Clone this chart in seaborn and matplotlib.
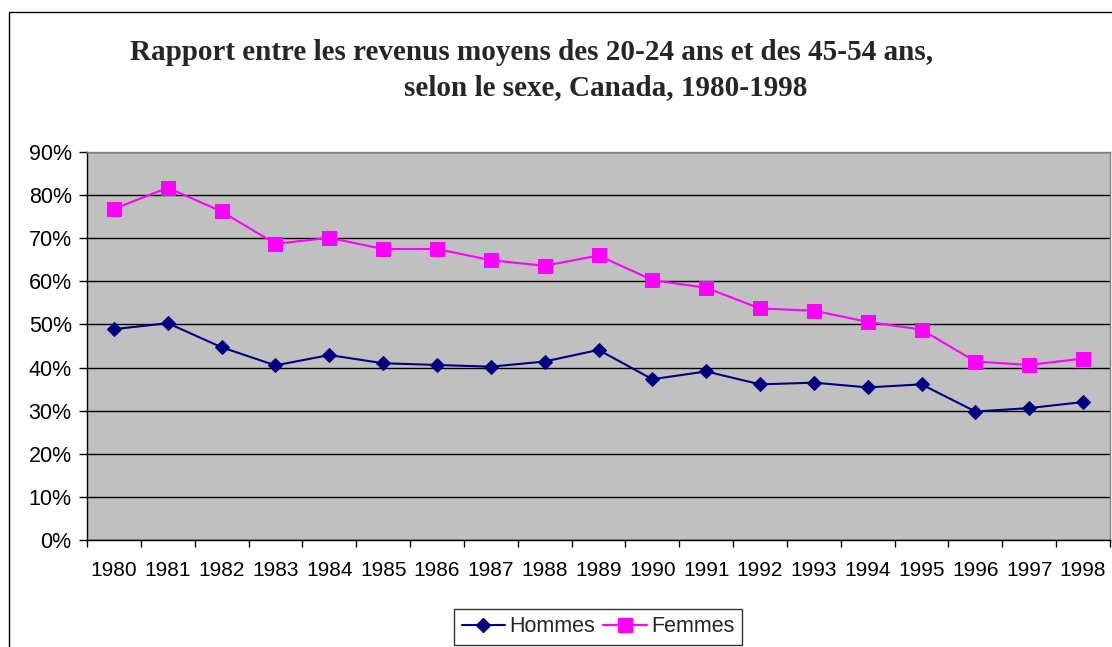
import matplotlib
matplotlib.use("Agg")
import matplotlib.pyplot as plt
import matplotlib.ticker as mticker
from matplotlib.patches import Rectangle
from matplotlib.lines import Line2D
import seaborn as sns
import pandas as pd
import numpy as np

years = [1980, 1981, 1982, 1983, 1984, 1985, 1986, 1987, 1988, 1989,
         1990, 1991, 1992, 1993, 1994, 1995, 1996, 1997, 1998]
hommes = [48.9, 50.3, 44.7, 40.5, 42.9, 41.0, 40.6, 40.2, 41.4, 44.1,
          37.3, 39.1, 36.1, 36.5, 35.4, 36.1, 29.8, 30.6, 32.0]
femmes = [76.8, 81.7, 76.2, 68.7, 70.1, 67.5, 67.5, 64.9, 63.6, 66.0,
          60.3, 58.5, 53.7, 53.2, 50.6, 48.8, 41.4, 40.6, 42.1]
series_names = ["Hommes", "Femmes"]
title_line1 = "Rapport entre les revenus moyens des 20-24 ans et des 45-54 ans,"
title_line2 = "selon le sexe, Canada, 1980-1998"

sns.set_theme(style="white")
plt.rcParams['font.family'] = ['Liberation Sans', 'DejaVu Sans']

W, H = 1112, 647
fig = plt.figure(figsize=(W / 100, H / 100), dpi=100)
ax = fig.add_axes([87 / W, 1 - 540 / H, (1110 - 87) / W, (540 - 152) / H])
ax.set_facecolor("#C0C0C0")

df = pd.DataFrame({"year": years, "Hommes": hommes, "Femmes": femmes})
sns.lineplot(data=df, x="year", y="Hommes", ax=ax, color="#000080",
             marker="D", markersize=7, markeredgecolor="#000080",
             linewidth=1.5, label=series_names[0], legend=False)
sns.lineplot(data=df, x="year", y="Femmes", ax=ax, color="#FF00FF",
             marker="s", markersize=10, markeredgecolor="#FF00FF",
             linewidth=1.5, label=series_names[1], legend=False)

ax.set_xlim(years[0] - 0.5, years[-1] + 0.5)
ax.set_ylim(0, 90)
ax.set_xlabel("")
ax.set_ylabel("")
ax.yaxis.set_major_locator(mticker.MultipleLocator(10))
ax.yaxis.set_major_formatter(mticker.FuncFormatter(lambda v, p: f"{int(round(v))}%"))
ax.set_xticks(years)
ax.set_xticklabels([str(y) for y in years])
ax.set_xticks([y - 0.5 for y in years] + [years[-1] + 0.5], minor=True)
ax.tick_params(axis="x", which="major", length=0, pad=15, labelsize=15, colors="black")
ax.tick_params(axis="x", which="minor", length=5, width=1, color="black", direction="out", bottom=True)
ax.tick_params(axis="y", which="major", length=6, width=1, color="black", direction="out",
               left=True, pad=5, labelsize=15.5, labelcolor="black")

ax.grid(axis="y", which="major", color="black", linewidth=1)
ax.grid(axis="x", visible=False)
ax.set_axisbelow(True)
for s in ["left", "bottom"]:
    ax.spines[s].set_color("black")
    ax.spines[s].set_linewidth(1)
for s in ["top", "right"]:
    ax.spines[s].set_color("#808080")
    ax.spines[s].set_linewidth(1)

handles = [Line2D([], [], color="#000080", marker="D", markersize=7, linewidth=1.5),
           Line2D([], [], color="#FF00FF", marker="s", markersize=10, linewidth=1.5)]
leg = fig.legend(handles, series_names, loc="center", bbox_to_anchor=(598 / W, 1 - 627 / H),
                 ncol=2, frameon=True, fontsize=15.5, handlelength=2.0, handletextpad=0.2,
                 columnspacing=0.4, borderpad=0.35, fancybox=False, borderaxespad=0)
leg.get_frame().set_edgecolor("black")
leg.get_frame().set_linewidth(1)

fig.text(532 / W, 1 - 53 / H, title_line1, ha="center", va="center",
         fontsize=21, fontweight="bold", family=["Liberation Serif", "DejaVu Serif"])
fig.text(606 / W, 1 - 88 / H, title_line2, ha="center", va="center",
         fontsize=21, fontweight="bold", family=["Liberation Serif", "DejaVu Serif"])

fig.patches.append(Rectangle((9 / W, -0.1), 1.2, 1 - 12 / H + 0.1, transform=fig.transFigure,
                             fill=False, edgecolor="black", linewidth=1))

fig.savefig("out.png", dpi=100)
